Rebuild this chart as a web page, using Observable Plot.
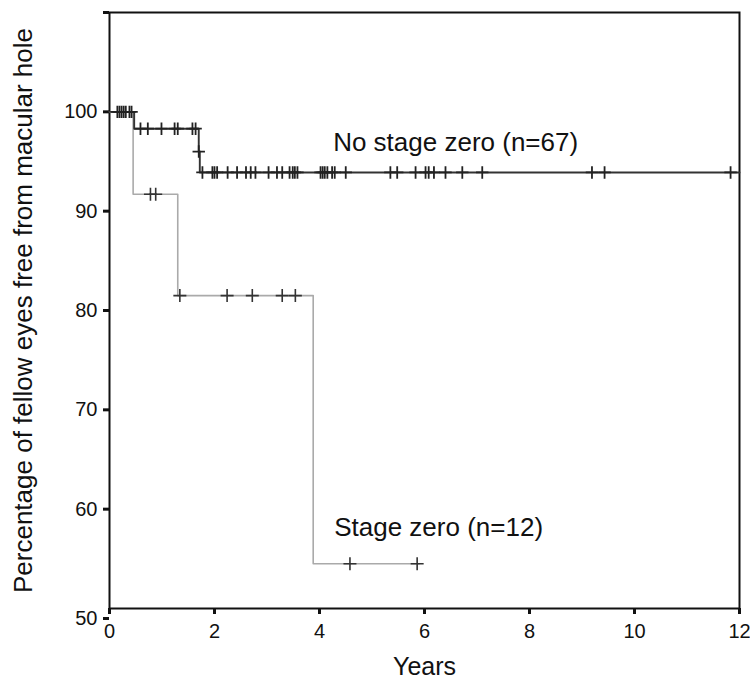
<!DOCTYPE html>
<html>
<head>
<meta charset="utf-8">
<script src="https://cdn.jsdelivr.net/npm/d3@7"></script>
<script src="https://cdn.jsdelivr.net/npm/@observablehq/plot@0.6"></script>
<style>
  html, body { margin: 0; padding: 0; background: #fff; }
  #chart svg { display: block; }
</style>
</head>
<body>
<div id="chart"></div>
<script>
// Kaplan-Meier step curves (years, % free from macular hole)
const noStageTimes = [0, 0.47, 1.70, 1.72, 12];
const noStageSurv  = [100, 98.3, 96.0, 93.9, 93.9];
const noStageCensorTimes = [0.15, 0.19, 0.23, 0.27, 0.31, 0.38, 0.42,
  0.59, 0.73, 0.99, 1.24, 1.30, 1.58, 1.64,
  1.70,
  1.77, 1.96, 2.00, 2.05, 2.25, 2.43, 2.60, 2.69, 2.78, 3.03, 3.19, 3.29, 3.43, 3.49, 3.53, 3.58,
  4.02, 4.06, 4.10, 4.15, 4.24, 4.29, 4.50, 5.35, 5.48, 5.83, 6.02, 6.08, 6.18, 6.40, 6.72, 7.10,
  9.19, 9.43, 11.83];
const noStageCensorSurv = [100, 100, 100, 100, 100, 100, 100,
  98.3, 98.3, 98.3, 98.3, 98.3, 98.3, 98.3,
  96.0,
  93.9, 93.9, 93.9, 93.9, 93.9, 93.9, 93.9, 93.9, 93.9, 93.9, 93.9, 93.9, 93.9, 93.9, 93.9, 93.9,
  93.9, 93.9, 93.9, 93.9, 93.9, 93.9, 93.9, 93.9, 93.9, 93.9, 93.9, 93.9, 93.9, 93.9, 93.9, 93.9,
  93.9, 93.9, 93.9];

const stageZeroTimes = [0, 0.45, 1.30, 3.88, 5.90];
const stageZeroSurv  = [100, 91.7, 81.5, 54.5, 54.5];
const stageZeroCensorTimes = [0.78, 0.88, 1.34, 2.24, 2.72, 3.29, 3.54, 4.58, 5.86];
const stageZeroCensorSurv  = [91.7, 91.7, 81.5, 81.5, 81.5, 81.5, 81.5, 54.5, 54.5];

const xTicks = [0, 2, 4, 6, 8, 10, 12];
const yTicks = [60, 70, 80, 90, 100, 110];
const yBottomTick = [50];
const seriesLabels = ["No stage zero (n=67)", "Stage zero (n=12)"];
const labelX = [4.26, 4.28];
const labelY = [96.9, 58.1];
const xTitle = "Years";
const yTitle = "Percentage of fellow eyes free from macular hole";

const noStage = noStageTimes.map((t, i) => ({t, s: noStageSurv[i]}));
const stageZero = stageZeroTimes.map((t, i) => ({t, s: stageZeroSurv[i]}));
const noStageCensor = noStageCensorTimes.map((t, i) => ({t, s: noStageCensorSurv[i]}));
const stageZeroCensor = stageZeroCensorTimes.map((t, i) => ({t, s: stageZeroCensorSurv[i]}));
const labels = seriesLabels.map((text, i) => ({text, t: labelX[i], s: labelY[i]}));

const plus = {
  draw(ctx, size) {
    const h = Math.sqrt(size / Math.PI);
    ctx.moveTo(-h, 0); ctx.lineTo(h, 0);
    ctx.moveTo(0, -h); ctx.lineTo(0, h);
  }
};

const font = "'Liberation Sans', Arial, Helvetica, sans-serif";

const chart = Plot.plot({
  width: 750,
  height: 689,
  marginLeft: 109,
  marginRight: 11,
  marginTop: 12,
  marginBottom: 81,
  style: {fontFamily: font, background: "#fff", color: "#111"},
  x: {domain: [0, 12]},
  y: {domain: [50, 110]},
  marks: [
    Plot.frame({stroke: "#111", strokeWidth: 2}),
    Plot.axisX({ticks: xTicks, tickSize: 6, tickPadding: 9, strokeWidth: 3, fontSize: 20, label: null}),
    Plot.axisY({ticks: yTicks, tickSize: 6, tickPadding: 6, strokeWidth: 3, fontSize: 20, label: null,
      tickFormat: d => d === 110 ? "" : String(d)}),
    Plot.axisY({ticks: yBottomTick, tickSize: 6, tickPadding: 6, strokeWidth: 3, fontSize: 20, label: null, dy: 10}),
    Plot.line(stageZero, {x: "t", y: "s", curve: "step-after", stroke: "#aaaaaa", strokeWidth: 1.6}),
    Plot.line(noStage, {x: "t", y: "s", curve: "step-after", stroke: "#333", strokeWidth: 1.9}),
    Plot.dot(stageZeroCensor, {x: "t", y: "s", symbol: plus, r: 6.5, fill: "none", stroke: "#333", strokeWidth: 1.6}),
    Plot.dot(noStageCensor, {x: "t", y: "s", symbol: plus, r: 6.2, fill: "none", stroke: "#222", strokeWidth: 1.8}),
    Plot.text(labels, {x: "t", y: "s", text: "text", textAnchor: "start", fontSize: 26, fill: "#111"}),
    Plot.text([xTitle], {frameAnchor: "bottom", dy: 66, fontSize: 25, fill: "#111"}),
    Plot.text([yTitle], {frameAnchor: "left", textAnchor: "middle", dx: -86, rotate: -90, fontSize: 26, fill: "#111"})
  ]
});
document.getElementById("chart").appendChild(chart);
</script>
</body>
</html>
